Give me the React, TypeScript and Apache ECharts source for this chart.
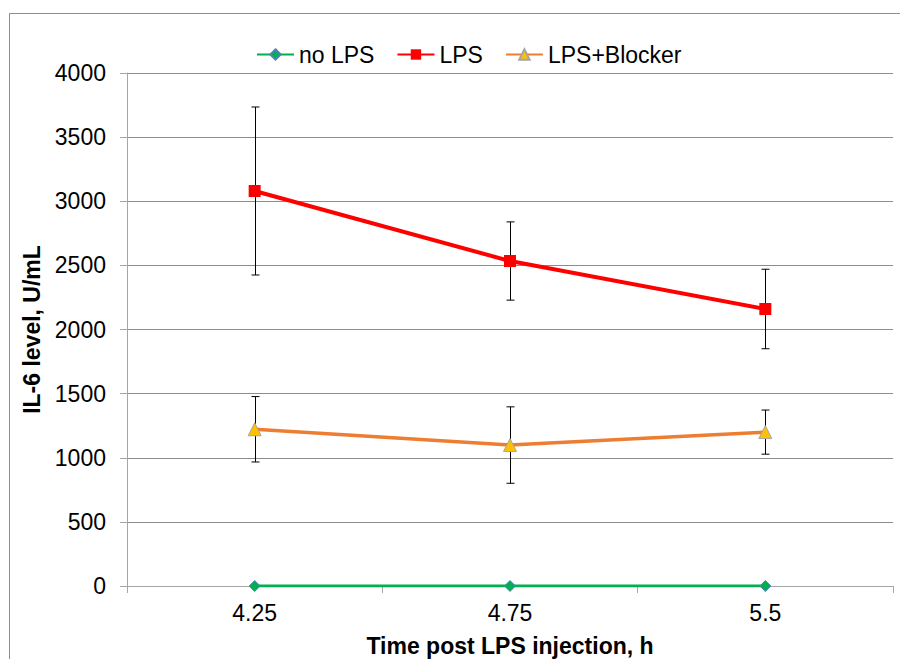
import React, { useEffect, useRef } from "react";
import * as echarts from "echarts";

const categories = ["4.25", "4.75", "5.5"];
const noLps = [0, 0, 0];
const lps = [3080, 2534, 2160];
const lpsErr = [655, 305, 310];
const blocker = [1222, 1099, 1200];
const blockerErr = [255, 298, 172];
const yTicks = { min: 0, max: 4000, interval: 500 };

export default function App() {
  const ref = useRef<HTMLDivElement>(null);
  useEffect(() => {
    if (!ref.current) return;
    const chart = echarts.init(ref.current, null, { renderer: "svg" });
    const errData = (vals: number[], errs: number[]) =>
      vals.map((v, i) => [i, v - errs[i], v + errs[i]]);
    const errSeries = (name: string, vals: number[], errs: number[]) => ({
      type: "custom",
      name: name + " err",
      z: 1,
      silent: true,
      data: errData(vals, errs),
      encode: { x: 0, y: [1, 2] },
      renderItem: (params: any, api: any) => {
        const lo = api.coord([api.value(0), api.value(1)]);
        const hi = api.coord([api.value(0), api.value(2)]);
        const x = Math.round(lo[0]) + 0.5;
        const c = 4;
        const st = { stroke: "#000", lineWidth: 1 };
        return {
          type: "group",
          children: [
            { type: "line", shape: { x1: x, y1: lo[1], x2: x, y2: hi[1] }, style: st },
            { type: "line", shape: { x1: x - c, y1: lo[1], x2: x + c, y2: lo[1] }, style: st },
            { type: "line", shape: { x1: x - c, y1: hi[1], x2: x + c, y2: hi[1] }, style: st },
          ],
        };
      },
    });
    const font = "Liberation Sans, Arial, sans-serif";
    chart.setOption({
      animation: false,
      textStyle: { fontFamily: font },
      graphic: [
        {
          type: "rect",
          shape: { x: 9.5, y: 13.5, width: 1000, height: 1000 },
          style: { fill: "none", stroke: "#8c8c8c", lineWidth: 1 },
          silent: true,
        },
      ],
      legend: {
        left: 251,
        top: 38,
        itemWidth: 37,
        itemHeight: 13,
        itemGap: 22,
        textStyle: { fontSize: 23, color: "#000", fontFamily: font },
        data: ["no LPS", "LPS", "LPS+Blocker"],
      },
      grid: {
        left: 127,
        right: 7,
        top: 73,
        bottom: 73,
        containLabel: false,
        outerBoundsMode: "none",
      },
      xAxis: {
        type: "category",
        data: categories,
        boundaryGap: true,
        name: "Time post LPS injection, h",
        nameLocation: "middle",
        nameGap: 48,
        nameTextStyle: { fontSize: 23, fontWeight: "bold", color: "#000", fontFamily: font },
        axisLine: { lineStyle: { color: "#a6a6a6", width: 1 } },
        axisTick: { show: true, inside: false, length: 7, interval: 0, lineStyle: { color: "#a6a6a6" } },
        axisLabel: { fontSize: 23, color: "#000", margin: 15, fontFamily: font },
      },
      yAxis: {
        type: "value",
        min: yTicks.min,
        max: yTicks.max,
        interval: yTicks.interval,
        name: "IL-6 level, U/mL",
        nameLocation: "middle",
        nameGap: 74,
        nameTextStyle: { fontSize: 23, fontWeight: "bold", color: "#000", fontFamily: font },
        axisLine: { show: true, lineStyle: { color: "#a6a6a6", width: 1 } },
        axisTick: { show: true, length: 7, lineStyle: { color: "#a6a6a6" } },
        axisLabel: {
          fontSize: 23,
          color: "#000",
          margin: 21,
          fontFamily: font,
          formatter: (v: number) => String(v),
        },
        splitLine: { show: true, lineStyle: { color: "#8c8c8c", width: 1 } },
      },
      series: [
        errSeries("LPS", lps, lpsErr),
        errSeries("LPS+Blocker", blocker, blockerErr),
        {
          name: "no LPS",
          type: "line",
          data: noLps,
          z: 3,
          symbol: "diamond",
          symbolSize: 11,
          lineStyle: { color: "#00b050", width: 3 },
          itemStyle: { color: "#00b050", borderColor: "#4f81bd", borderWidth: 1 },
        },
        {
          name: "LPS",
          type: "line",
          data: lps,
          z: 3,
          symbol: "rect",
          symbolSize: 12,
          lineStyle: { color: "#ff0000", width: 4 },
          itemStyle: { color: "#ff0000", borderColor: "#ff0000", borderWidth: 0 },
        },
        {
          name: "LPS+Blocker",
          type: "line",
          data: blocker,
          z: 3,
          symbol: "triangle",
          symbolSize: 13,
          lineStyle: { color: "#ed7d31", width: 3.5 },
          itemStyle: { color: "#ffc000", borderColor: "#a5a5a5", borderWidth: 1 },
        },
      ],
    });
    return () => chart.dispose();
  }, []);
  return (
    <div
      ref={ref}
      style={{ position: "fixed", left: 0, top: 0, width: 900, height: 659, background: "#fff" }}
    />
  );
}
